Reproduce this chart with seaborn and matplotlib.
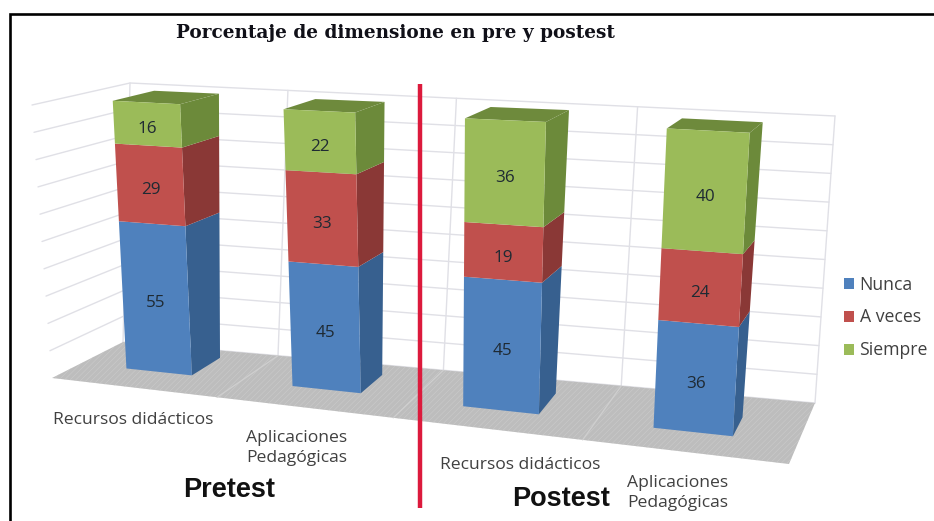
import numpy as np
import matplotlib
matplotlib.use("Agg")
import matplotlib.pyplot as plt
from matplotlib.transforms import Transform
import seaborn as sns

# datos
bar_ids = ["Pre Recursos", "Pre Aplicaciones", "Post Recursos", "Post Aplicaciones"]
nunca = [55, 45, 45, 36]
a_veces = [29, 33, 19, 24]
siempre = [16, 22, 36, 40]
series_names = ["Nunca", "A veces", "Siempre"]
series_values = [nunca, a_veces, siempre]
grid_levels = [0, 10, 20, 30, 40, 50, 60, 70, 80, 90, 100]

# colores
front_colors = ["#4F81BD", "#C0504D", "#9BBB59"]
side_colors = ["#37608F", "#8A3836", "#6C8A3A"]
top_color = "#6E8A3C"
floor_color = "#BDBDBD"
grid_color = "#E0E0E6"

# caja 3D del grafico en pixeles (u: izquierda-derecha, d: frente-fondo)
box_bottom = {"nl": (52, 378), "nr": (789, 464), "fl": (123, 342), "fr": (815, 403)}
box_top = {"nl": (32, 105), "nr": (800, 150), "fl": (130, 83), "fr": (835, 116)}
bar_left = [0.064, 0.295, 0.535, 0.80]
bar_right = [0.155, 0.39, 0.64, 0.91]
bar_near = [0.40, 0.40, 0.36, 0.34]
bar_far = [0.84, 0.80, 0.76, 0.66]
wall_dividers = [0, 0.224, 0.463, 0.72, 1]
half_width = 0.4
# correccion de perspectiva en la parte alta de las barras
lean_u = [0.1, 0.35, 0.6, 0.85]
lean_x = [-6, -7, 1, 5]
lean_y = [2, 1, -1, -2]
label_drop = 2


def project(u, d, z, bars=False):
    u, d, z = np.asarray(u, float), np.asarray(d, float), np.asarray(z, float)
    out = []
    for k, lean in enumerate((lean_x, lean_y)):
        bot = (1 - d) * ((1 - u) * box_bottom["nl"][k] + u * box_bottom["nr"][k]) + d * ((1 - u) * box_bottom["fl"][k] + u * box_bottom["fr"][k])
        top = (1 - d) * ((1 - u) * box_top["nl"][k] + u * box_top["nr"][k]) + d * ((1 - u) * box_top["fl"][k] + u * box_top["fr"][k])
        if bars:
            top = top + np.interp(u, lean_u, lean)
        out.append(bot + (top - bot) * z / 100)
    return np.column_stack(out)


class BarFace(Transform):
    # lleva (posicion de barra, valor) a la cara frontal en perspectiva
    input_dims = 2
    output_dims = 2
    is_separable = False

    def __init__(self, i):
        super().__init__()
        self.i = i

    def transform_non_affine(self, values):
        values = np.asarray(values, float)
        frac = (values[:, 0] - (self.i - half_width)) / (2 * half_width)
        u = bar_left[self.i] + frac * (bar_right[self.i] - bar_left[self.i])
        return project(u, np.full(len(u), bar_near[self.i]), values[:, 1], bars=True)


sns.set_theme(style="white")
plt.rcParams["font.family"] = ["Open Sans", "DejaVu Sans"]
plt.rcParams["hatch.linewidth"] = 0.4

fig = plt.figure(figsize=(9.34, 5.21), dpi=100)
ax = fig.add_axes([0, 0, 1, 1], zorder=1)
ax.set_xlim(0, 934)
ax.set_ylim(521, 0)
ax.axis("off")
bar_ax = fig.add_axes([0, 0, 1, 1], zorder=2)

# marco
ax.plot([9.5, 9.5, 934], [521, 13.5, 13.5], color="black", lw=1.9, solid_joinstyle="miter")

# suelo
floor = project([0, 1, 1, 0], [0, 0, 1, 1], [0, 0, 0, 0])
ax.fill(floor[:, 0], floor[:, 1], facecolor=floor_color, edgecolor="#CBCBCB", hatch="//////", lw=0, zorder=1)
for u in wall_dividers[1:-1]:
    p = project([u, u], [0, 1], [0, 0])
    ax.plot(p[:, 0], p[:, 1], color="#CFCFCF", lw=0.9, zorder=1.5)

# paredes
for level in grid_levels:
    p = project([0, 0, 1], [0, 1, 1], [level, level, level])
    if level == 0:
        p = p[1:]
    ax.plot(p[:, 0], p[:, 1], color=grid_color, lw=1.0, zorder=0.5)
for u in wall_dividers:
    p = project([u, u], [1, 1], [0, 100])
    ax.plot(p[:, 0], p[:, 1], color=grid_color, lw=1.0, zorder=0.5)

# caras frontales con seaborn
bottoms = np.zeros(len(bar_ids))
for name, values, color in zip(series_names, series_values, front_colors):
    sns.barplot(x=bar_ids, y=values, bottom=bottoms, color=color, saturation=1,
                width=2 * half_width, label=name, legend=False, ax=bar_ax, linewidth=0)
    bottoms = bottoms + np.array(values)

n_bars = len(bar_ids)
for j, patch in enumerate(bar_ax.patches):
    patch.set_transform(BarFace(j % n_bars) + ax.transData)
    patch.set_clip_on(False)

# caras laterales, tapas y numeros
for i in range(n_bars):
    base = 0
    r = bar_right[i]
    d0, d1 = bar_near[i], bar_far[i]
    for values, side in zip(series_values, side_colors):
        v = values[i]
        p = project([r, r, r, r], [d0, d1, d1, d0], [base, base, base + v, base + v], bars=True)
        ax.fill(p[:, 0], p[:, 1], color=side, lw=0, zorder=2)
        bar_ax.text(i, base + v / 2 - label_drop, str(v), transform=BarFace(i) + ax.transData,
                    ha="center", va="center", fontsize=12.3, color="#1F2A33", clip_on=False)
        base += v
    p = project([bar_left[i], r, r, bar_left[i]], [d0, d0, d1, d1], [base] * 4, bars=True)
    ax.fill(p[:, 0], p[:, 1], color=top_color, lw=0, zorder=2)

bar_ax.set_axis_off()

# linea roja
ax.plot([419.5, 419.5], [84, 508], color="#DC1A3C", lw=3.2, solid_capstyle="butt", zorder=3)

# textos
ax.text(176, 33, "Porcentaje de dimensione en pre y postest", family="DejaVu Serif",
        fontweight="bold", fontsize=13.3, color="#101018", va="center", ha="left")
label_color = "#404040"
label_size = 12.6
ax.text(53, 420, "Recursos didácticos", fontsize=label_size, color=label_color, va="center")
ax.text(297, 448, "Aplicaciones\nPedagógicas", fontsize=label_size, color=label_color, va="center",
        ha="center", linespacing=1.35)
ax.text(440, 465, "Recursos didácticos", fontsize=label_size, color=label_color, va="center")
ax.text(627, 493, "Aplicaciones\nPedagógicas", fontsize=label_size, color=label_color, va="center",
        ha="left", linespacing=1.3)
ax.text(183, 490, "Pretest", family="Liberation Sans", fontweight="bold", fontsize=19.5,
        color="#111111", va="center")
ax.text(512, 499, "Postest", family="Liberation Sans", fontweight="bold", fontsize=19.5,
        color="#111111", va="center")

# leyenda
handles, labels = bar_ax.get_legend_handles_labels()
bar_ax.legend(handles[:3], labels[:3], loc="upper left", bbox_to_anchor=(844, 275.5),
              bbox_transform=ax.transData, frameon=False, fontsize=12.7, handlelength=0.58,
              handleheight=0.58, handletextpad=0.3, labelspacing=0.85,
              labelcolor=label_color, borderpad=0, borderaxespad=0)

fig.savefig("out.png", dpi=100, facecolor="white")
